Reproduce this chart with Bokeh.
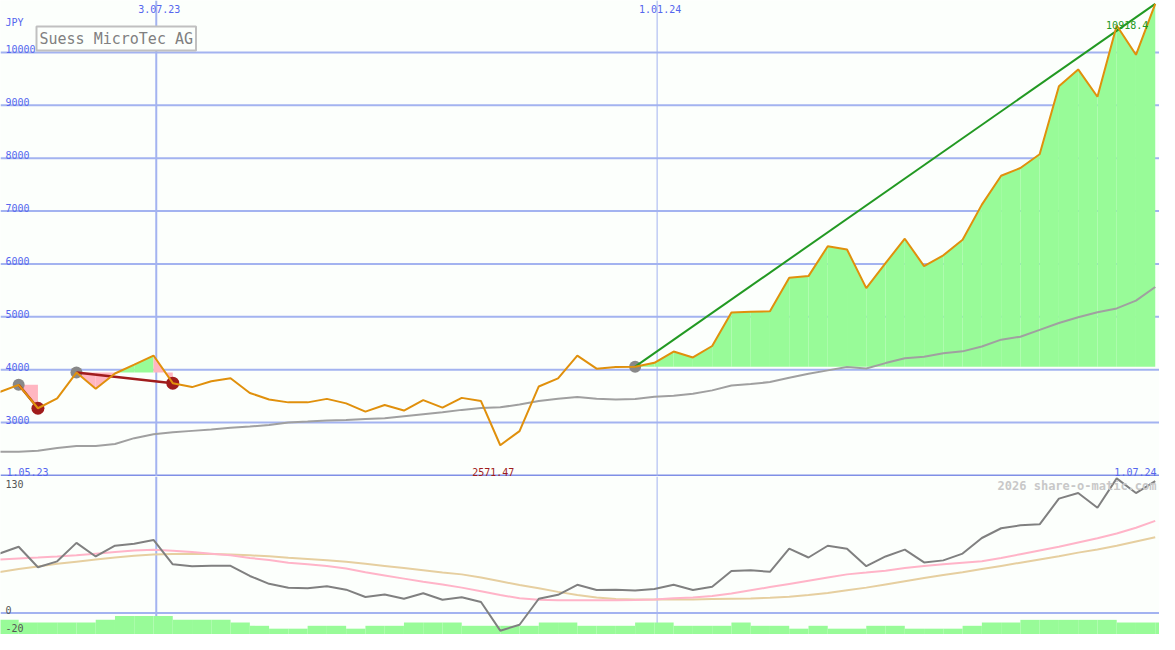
import datetime as dt
from bokeh.plotting import figure
from bokeh.layouts import column
from bokeh.models import Range1d, Span, Label
from bokeh.core.properties import value
from bokeh.embed import file_html
from bokeh.resources import INLINE

# ---------------- data ----------------
title_text = "Suess MicroTec AG"
currency = "JPY"
watermark = "2026 share-o-matic.com"
first_week = dt.datetime(2023, 5, 7)
dates = [first_week + dt.timedelta(days=7 * i) for i in range(61)]

price = [3577, 3714, 3271, 3456, 3946, 3640, 3928, 4095, 4268, 3745,
         3671, 3782, 3837, 3560, 3437, 3382, 3382, 3448, 3363, 3208,
         3332, 3227, 3424, 3282, 3467, 3406, 2571.47, 2839, 3683, 3836,
         4265, 4020, 4050, 4057, 4131, 4344, 4232, 4448, 5081, 5094,
         5107, 5740, 5770, 6335, 6274, 5542, 6016, 6477, 5960, 6163,
         6458, 7122, 7668, 7815, 8074, 9360, 9679, 9162, 10509, 9956, 10918.4]

price_ma = [2446, 2446, 2465, 2520, 2557, 2557, 2594, 2705, 2778, 2815,
            2843, 2871, 2902, 2926, 2954, 3000, 3018, 3037, 3050, 3068,
            3083, 3120, 3157, 3194, 3240, 3277, 3290, 3341, 3406, 3452,
            3485, 3452, 3437, 3448, 3489, 3507, 3544, 3609, 3701, 3729,
            3766, 3849, 3923, 3987, 4052, 4024, 4125, 4218, 4245, 4310,
            4347, 4439, 4568, 4624, 4753, 4882, 4993, 5085, 5159, 5306, 5565]

osc = [56.1, 62.6, 43.2, 48.8, 66.2, 53.4, 63.5, 65.3, 69, 46,
       44.2, 44.6, 44.6, 35, 27.6, 23.9, 23.5, 25.3, 22.1, 15.2,
       17.5, 13.5, 18.7, 12.6, 15, 10.4, -16.6, -11, 13.5, 17.2,
       26.7, 21.8, 22.1, 21.2, 22.7, 26.7, 21.8, 24.8, 39.6, 40.5,
       38.9, 60.7, 52.4, 63.5, 60.7, 44.2, 53.4, 59.8, 47.8, 49.7,
       56.1, 70.8, 80, 82.8, 83.7, 107.9, 113.2, 99.4, 127, 113.2, 124.5]

osc_fast = [50.6, 51.5, 52.4, 53.4, 54.5, 56, 57.5, 59, 59.8, 58.8,
            57.5, 56, 54.5, 52, 50, 47.5, 46, 44.5, 42, 38.5,
            35.5, 32.5, 29.5, 27, 24, 20.5, 17, 14, 12.5, 12,
            12, 12, 12, 12.3, 12.9, 14, 14.6, 16, 18.5, 21.5,
            24.5, 27.5, 30.5, 33.5, 36.5, 38.2, 40, 42.5, 44.5, 46,
            47.5, 48.8, 52, 55.5, 59, 62.5, 66.5, 70.5, 75, 80.5, 87]

osc_slow = [38.6, 41.5, 44, 46.5, 48.5, 50.5, 52.5, 54, 55.2, 55.8,
            56, 55.8, 55.2, 54.5, 53.5, 52.2, 51, 49.8, 48.3, 46.5,
            44.5, 42.5, 40.5, 38.2, 36.5, 33.5, 30, 26.5, 23.5, 20,
            17, 14.8, 13.3, 12.9, 12.9, 12.9, 12.9, 13.2, 13.5, 13.8,
            14.5, 15.5, 17, 19, 21.5, 24, 27, 30, 33, 36,
            38.5, 41.5, 44.5, 47.5, 50.5, 53.5, 57, 60, 63.5, 67.5, 71.5]

bar_tops = ([-6.4] + [-8.9] * 4 + [-6.4] + [-2.8] * 3 + [-6.4] * 3 + [-8.9] + [-12]
            + [-14.7] * 2 + [-12] * 2 + [-14.7] + [-12] * 2 + [-8.9] * 3 + [-12] * 4
            + [-8.9] * 2 + [-12] * 3 + [-8.9] * 2 + [-12] * 3 + [-8.9] + [-12] * 2
            + [-14.7] + [-12] + [-14.7] * 2 + [-12] * 2 + [-14.7] * 3 + [-12]
            + [-8.9] * 2 + [-6.4] * 5 + [-8.9] * 3)

entry_idx = [1, 4, 33]
exit_idx = [2, 9, 60]
trade_open = [False, False, True]

price_ticks = [3000, 4000, 5000, 6000, 7000, 8000, 9000, 10000]
price_base = 2000
date_ticks = [dt.datetime(2023, 7, 3), dt.datetime(2024, 1, 1)]
date_tick_labels = ["3.07.23", "1.01.24"]
range_labels = ["1.05.23", "1.07.24"]
osc_ticks = [0, -20]
osc_top_label = "130"

# ---------------- styling ----------------
BG = "#FCFFFC"
GRID = "#A3B3F0"
SEP = "#7F8FE6"
LBL = "#5566EE"
FONT_NAME = "DejaVu Sans Mono"
FONT = value(FONT_NAME)
W, H_UP, H_LO = 1159, 476, 158
DAY = 86400000.0


def ms(d):
    return (d - dt.datetime(1970, 1, 1)).total_seconds() * 1000.0


xs = [ms(d) for d in dates]
x_start = ms(first_week) + 0.4 * DAY
x_end = ms(first_week) + 421.55 * DAY

common = dict(width=W, output_backend="svg", toolbar_location=None, min_border=0,
              x_axis_location=None, y_axis_location=None,
              background_fill_color=BG, border_fill_color=BG, outline_line_color=None)

p1 = figure(height=H_UP, x_range=Range1d(x_start, x_end), y_range=Range1d(1980, 10983), **common)
p2 = figure(height=H_LO, x_range=p1.x_range, y_range=Range1d(-20.2, 128.8), **common)
for p in (p1, p2):
    p.grid.visible = False

# grid lines
for t in price_ticks:
    p1.add_layout(Span(location=t, dimension="width", line_color=GRID, line_width=2, level="underlay"))
p1.add_layout(Span(location=price_base, dimension="width", line_color=SEP, line_width=2, level="underlay"))
for d, w in zip(date_ticks, [2, 1]):
    for p in (p1, p2):
        p.add_layout(Span(location=ms(d), dimension="height", line_color=GRID, line_width=w, level="underlay"))
p2.add_layout(Span(location=0, dimension="width", line_color=GRID, line_width=2, level="underlay"))

# trade fills
fx, fy, fc = [], [], []
for e, x, op in zip(entry_idx, exit_idx, trade_open):
    lvl = price[e]
    for k in range(e, x):
        fx.append([xs[k], xs[k], xs[k + 1], xs[k + 1]])
        fy.append([lvl, price[k], price[k + 1], lvl])
        fc.append("#98FB98" if price[k + 1] > lvl else "#FFB6C1")
p1.patches(fx, fy, fill_color=fc, line_color=None)

# moving average
p1.line(xs, price_ma, line_color="#A0A0A0", line_width=2)

# markers
p1.scatter([xs[i] for i in entry_idx], [price[i] for i in entry_idx], size=12,
           fill_color="#888888", line_color=None)
closed = [x for x, op in zip(exit_idx, trade_open) if not op]
p1.scatter([xs[i] for i in closed], [price[i] for i in closed], size=13,
           fill_color="#A01C1C", line_color=None)

# trade lines
for e, x, op in zip(entry_idx, exit_idx, trade_open):
    p1.line([xs[e], xs[x]], [price[e], price[x]],
            line_color="#229922" if op else "#A01C1C", line_width=2 if op else 2.5)

# price
p1.line(xs, price, line_color="#E0900C", line_width=2)

# labels upper
p1.text([x_start] * len(price_ticks), price_ticks, text=[str(t) for t in price_ticks],
        x_offset=5, y_offset=-3, text_baseline="alphabetic", text_font=FONT,
        text_font_size="10px", text_color=LBL)
p1.text([x_start], [10983], text=[currency], x_offset=5, y_offset=16, text_baseline="top",
        text_font=FONT, text_font_size="10px", text_color=LBL)
p1.text([ms(d) for d in date_ticks], [10983] * 2, text=date_tick_labels, x_offset=3, y_offset=4,
        text_baseline="top", text_align="center", text_font=FONT, text_font_size="10px", text_color=LBL)
p1.text([x_start], [1980], text=[range_labels[0]], x_offset=6, y_offset=-5,
        text_baseline="alphabetic", text_font=FONT, text_font_size="10px", text_color=LBL)
p1.text([x_end], [1980], text=[range_labels[1]], x_offset=-3, y_offset=-5, text_align="right",
        text_baseline="alphabetic", text_font=FONT, text_font_size="10px", text_color=LBL)
i_min = price.index(min(price))
i_max = price.index(max(price))
p1.text([xs[i_min]], [1980], text=["%.2f" % price[i_min]], x_offset=-7, y_offset=-5,
        text_align="center", text_baseline="alphabetic", text_font=FONT, text_font_size="10px",
        text_color="#A01C1C")
p1.text([xs[i_max]], [price[i_max]], text=["%.1f" % price[i_max]], x_offset=-7, y_offset=21,
        text_align="right", text_baseline="alphabetic", text_font=FONT, text_font_size="10px",
        text_color="#229922")

p1.add_layout(Label(x=36, y=H_UP - 26, x_units="screen", y_units="screen", text=title_text,
                    text_font=FONT_NAME, text_font_size="15px", text_color="#808080",
                    text_baseline="top", background_fill_color=BG, border_line_color="#C0C0C0",
                    border_line_width=2, padding=3))

# lower panel
p2.quad(left=xs, right=xs[1:] + [x_end], bottom=-20.2, top=bar_tops,
        fill_color="#98FB98", line_color=None)
p2.line(xs, osc_slow, line_color="#E6CFA0", line_width=2)
p2.line(xs, osc_fast, line_color="#FFB4C8", line_width=2)
p2.line(xs, osc, line_color="#808080", line_width=2)

p2.text([x_start] * len(osc_ticks), osc_ticks, text=[str(t) for t in osc_ticks], x_offset=5,
        y_offset=[-3, -6], text_baseline="alphabetic", text_font=FONT, text_font_size="10px",
        text_color="#555555")
p2.text([x_start], [128.8], text=[osc_top_label], x_offset=5, y_offset=3, text_baseline="top",
        text_font=FONT, text_font_size="10px", text_color="#555555")
p2.text([x_end], [128.8], text=[watermark], x_offset=-3, y_offset=2, text_baseline="top",
        text_align="right", text_font=FONT, text_font_size="12px", text_font_style="bold",
        text_color="#C8C8C8")

layout = column(p1, p2, spacing=0)
open("out.html", "w").write(file_html(layout, INLINE))
